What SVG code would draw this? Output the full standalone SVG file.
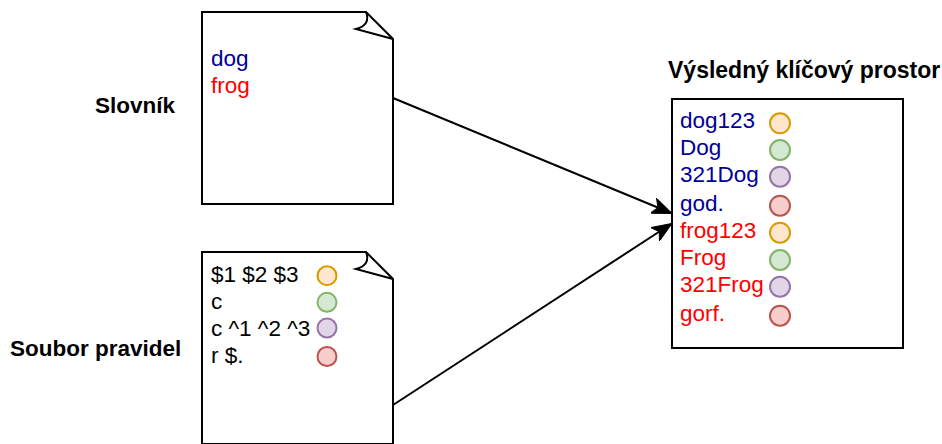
<svg xmlns="http://www.w3.org/2000/svg" width="942" height="444" viewBox="0 0 942 444">
  <defs>
    <style>
      .t { font-family: "Liberation Sans", Arial, sans-serif; font-size: 22.5px; }
      .b { font-weight: bold; fill: #000; }
      .blue { fill: #000099; }
      .red { fill: #ff0000; }
      .blk { fill: #000; }
      .shape { fill: #fff; stroke: #000; stroke-width: 2; }
      .fold { fill: none; stroke: #000; stroke-width: 2; stroke-linejoin: miter; }
      .c1 { fill: #ffe6cc; stroke: #d79b00; stroke-width: 2; }
      .c2 { fill: #d5e8d4; stroke: #82b366; stroke-width: 2; }
      .c3 { fill: #e1d5e7; stroke: #9673a6; stroke-width: 2; }
      .c4 { fill: #f8cecc; stroke: #b85450; stroke-width: 2; }
      .edge { fill: none; stroke: #000; stroke-width: 2; }
    </style>
    <marker id="arrow" viewBox="0 0 20 16" refX="19" refY="8" markerWidth="20" markerHeight="16" markerUnits="userSpaceOnUse" orient="auto">
      <path d="M0,0 L20,8 L0,16 L5,8 Z" fill="#000" stroke="#000" stroke-width="1"/>
    </marker>
  </defs>

  <g id="label-slovnik">
    <text class="t b" x="95" y="113">Slovník</text>
  </g>
  <g id="label-soubor">
    <text class="t b" x="10" y="356">Soubor pravidel</text>
  </g>
  <g id="label-vysledny">
    <text class="t b" x="668" y="78" style="font-size:23px">Výsledný klíčový prostor</text>
  </g>

  <g id="slovnik">
    <path class="shape" d="M202,12 H366 L393,39 V204 H202 Z"/>
    <path class="fold" d="M366,12 Q371,25 356,29 L393,39"/>
    <text class="t blue" x="211" y="65.5">dog</text>
    <text class="t red" x="211" y="92.5">frog</text>
  </g>

  <g id="pravidla">
    <path class="shape" d="M202,252 H366 L393,279 V444 H202 Z"/>
    <path class="fold" d="M366,252 Q371,265 356,269 L393,279"/>
    <text class="t blk" x="211" y="281.5">$1 $2 $3</text>
    <text class="t blk" x="211" y="308.5">c</text>
    <text class="t blk" x="211" y="335.5">c ^1 ^2 ^3</text>
    <text class="t blk" x="211" y="362.5">r $.</text>
    <circle class="c1" cx="327" cy="275.7" r="9.5"/>
    <circle class="c2" cx="327" cy="302.3" r="9.5"/>
    <circle class="c3" cx="327" cy="328" r="9.5"/>
    <circle class="c4" cx="327" cy="356.5" r="9.5"/>
  </g>

  <g id="vysledek">
    <rect class="shape" x="672" y="99" width="231" height="249"/>
    <text class="t blue" x="680" y="128">dog123</text>
    <text class="t blue" x="680" y="155">Dog</text>
    <text class="t blue" x="680" y="182">321Dog</text>
    <text class="t blue" x="680" y="210.5">god.</text>
    <text class="t red" x="680" y="238">frog123</text>
    <text class="t red" x="680" y="265">Frog</text>
    <text class="t red" x="680" y="292">321Frog</text>
    <text class="t red" x="680" y="320.5">gorf.</text>
    <circle class="c1" cx="780" cy="123.3" r="10"/>
    <circle class="c2" cx="780" cy="150" r="10"/>
    <circle class="c3" cx="780" cy="176.7" r="10"/>
    <circle class="c4" cx="780" cy="205.7" r="10"/>
    <circle class="c1" cx="780" cy="232.7" r="10"/>
    <circle class="c2" cx="780" cy="260" r="10"/>
    <circle class="c3" cx="780" cy="286.7" r="10"/>
    <circle class="c4" cx="780" cy="315.7" r="10"/>
  </g>

  <g id="connectors">
    <path class="edge" d="M393,98 L671,213" marker-end="url(#arrow)"/>
    <path class="edge" d="M393,405 L671,224" marker-end="url(#arrow)"/>
  </g>
</svg>
